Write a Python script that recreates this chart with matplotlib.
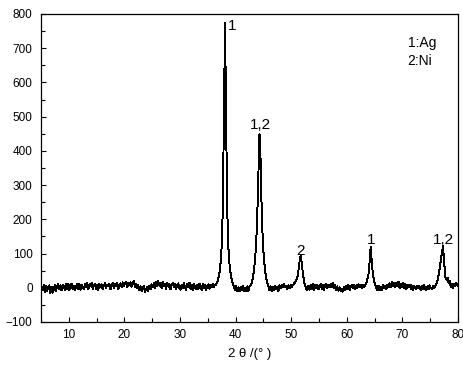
import matplotlib as mpl
import matplotlib.pyplot as plt
import numpy as np

config = {
    "font.family": ['Liberation Sans', 'DejaVu Sans'],
    "font.size": 8.5,
}
mpl.rcParams.update(config)

# 2theta sampling: 5.1, 5.3, ... 79.9 (step 0.2 deg)
two_theta = np.round(np.arange(5.1, 79.95, 0.2), 1)

# intensity, 20 points (4 deg) per row
intensity = [
    4, -8, 9, -12, 6, -10, 2, 7, -15, 3, -14, -5, 8, -9, 5, 11, -4, 7, -8, 9,        # 5.1-8.9
    5, -7, 10, -3, 11, -6, 8, 12, -5, 6, -8, 5, 10, -4, 12, -6, 9, 3, -5, 11,        # 9.1-12.9
    2, 13, -5, 10, 4, 14, -4, 8, 11, -3, 9, -7, 12, 1, 10, -5, 7, 13, -2, 9,         # 13.1-16.9
    4, 12, -4, 10, 14, 0, 11, 5, 15, -3, 9, 13, 2, 16, 6, 12, 18, 1, 14, 7,          # 17.1-20.9
    16, 3, 12, 19, 1, 11, -2, 8, -8, 4, -10, -3, 5, -12, -5, 3, -9, 6, -4, 10,       # 21.1-24.9
    2, 13, -2, 16, 4, 19, 6, 14, -1, 17, 5, 12, -3, 15, 3, 11, -5, 9, 14, 1,         # 25.1-28.9
    10, -4, 8, 13, -1, -6, 9, -2, 14, 3, -6, 11, 2, 15, -3, 8, -8, 10, 1, -5,        # 29.1-32.9
    9, -3, 12, 2, -6, 11, -1, 8, -7, 6, 10, -3, 9, 1, 11, 3, 8, 10, 15, 28,          # 33.1-36.9
    45, 74, 122, 230, 490, 775, 480, 225, 118, 70, 42, 24, 12, 2, -7, 5, -9, 1, -10, 3,  # 37.1-40.9
    -8, 5, -11, 0, -9, 4, -10, 3, 8, 15, 30, 50, 83, 129, 213, 330, 450, 370, 220, 132,  # 41.1-44.9
    84, 50, 30, 14, 3, -7, 4, -10, 2, -8, 6, -5, 3, -9, 7, -2, 9, 1, 10, 2,          # 45.1-48.9
    6, -5, 7, -1, 9, 2, 8, 12, 16, 22, 30, 50, 76, 95, 72, 42, 20, 6, -3, -8,        # 49.1-52.9
    5, -6, 8, -3, 10, -7, 7, -1, 9, -5, 5, 11, -3, 8, -6, 6, 12, 0, 9, 2,            # 53.1-56.9
    11, 2, 13, -2, 8, -6, 4, -9, 1, -10, -4, -11, 2, -8, 5, -4, 8, -6, 4, 9,         # 57.1-60.9
    0, 8, -5, 7, -2, 10, 1, 8, -1, 9, 3, 8, 14, 24, 40, 75, 120, 74, 38, 20,         # 61.1-64.9
    10, 1, -6, 6, -8, 3, -6, 8, -2, 6, -5, 9, 1, 13, 3, 16, 5, 14, 2, 15,            # 65.1-68.9
    4, 17, 0, 12, 3, 14, -1, 10, -4, 8, 1, 9, -3, 7, -6, 5, -1, -5, 6, -2,           # 69.1-72.9
    4, -6, 5, -4, 8, -2, -8, 4, -5, 7, 0, -4, 5, -2, 6, 12, 20, 35, 55, 80,          # 73.1-76.9
    100, 122, 78, 34, 24, 30, 14, 20, 2, 11, -1, 10, 4, 14, 6,                       # 77.1-79.9
]

# peak labels: position (2theta, intensity) and text
peak_x = [39.4, 44.4, 51.7, 64.3, 77.3]
peak_y = [766, 476, 107, 140, 140]
peak_text = ["1", "1,2", "2", "1", "1,2"]

fig = plt.figure(figsize=(4.64, 3.68), dpi=100)
ax = fig.add_axes([41 / 464, 1 - 322 / 368, 417 / 464, 308 / 368])

ax.plot(two_theta, intensity, color="black", linewidth=0.7, antialiased=False)

for px, py, t in zip(peak_x, peak_y, peak_text):
    ax.text(px, py, t, fontsize=11, ha="center", va="center")

ax.text(71.0, 714, "1:Ag", fontsize=10, ha="left", va="center")
ax.text(70.8, 663, "2:Ni", fontsize=10, ha="left", va="center")

ax.set_xlim(5, 80)
ax.set_ylim(-100, 800)
ax.set_xticks(np.arange(10, 81, 10))
ax.set_xticks(np.arange(15, 80, 10), minor=True)
ax.set_yticks(np.arange(-100, 801, 100))
ax.set_yticks(np.arange(-50, 800, 100), minor=True)
ax.tick_params(which="both", direction="in", width=0.8)
ax.tick_params(which="major", length=3.6)
ax.tick_params(which="minor", length=2.9)
ax.tick_params(axis="y", which="major", pad=6)
ax.tick_params(axis="x", which="major", pad=5)
for s in ax.spines.values():
    s.set_linewidth(0.9)

ax.set_xlabel("2 θ /(° )", fontsize=9.5, labelpad=5)

plt.savefig("out.png", dpi=100)
plt.close()
